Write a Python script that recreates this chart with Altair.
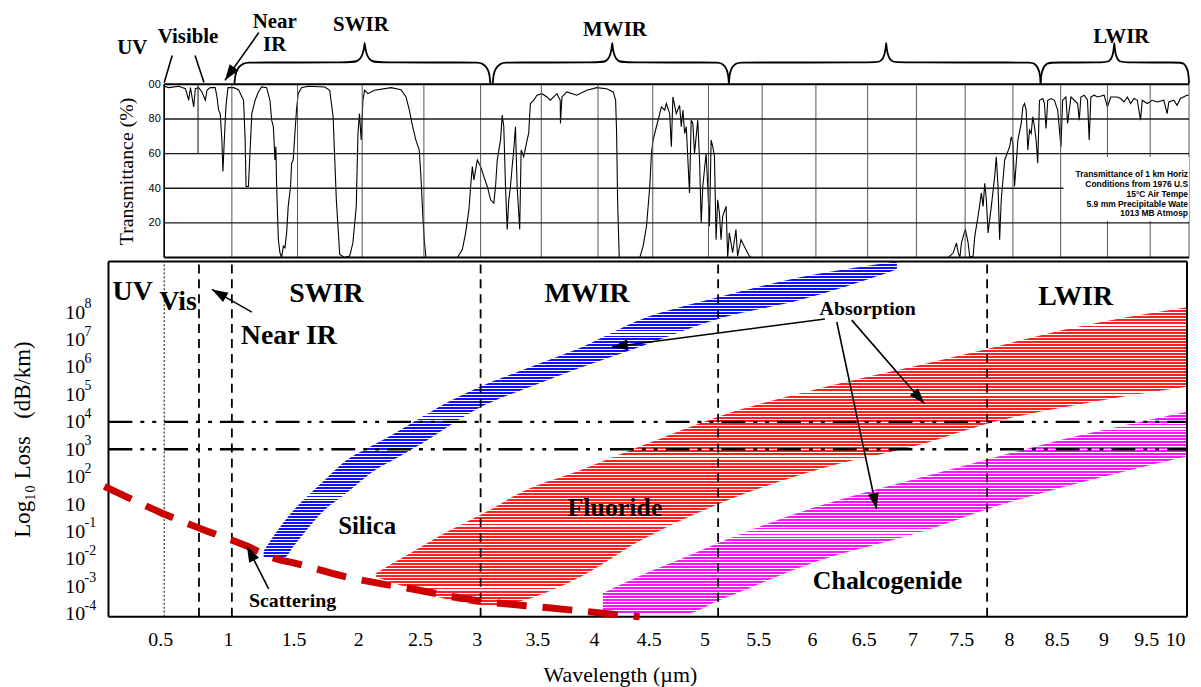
import altair as alt
import pandas as pd

SERIF = "Liberation Serif, Times New Roman, serif"
SANS = "Liberation Sans, Arial, sans-serif"
NARROW = "Liberation Sans Narrow, Arial Narrow, Liberation Sans, sans-serif"

# ---------------- wavelength grid of the transmittance chart (µm) ----------------
grid_wl = [0.5, 1.0, 1.5, 2.0, 2.5, 3.0, 3.5, 4.0, 4.5, 5.0,
           5.5, 6.0, 6.5, 7.0, 7.5, 8.0, 8.5, 9.0, 9.5, 10.0]
grid_T = [0, 20, 40, 60, 80, 100]

# ---------------- atmospheric transmittance curve ----------------
trans_wl = [0.498, 0.535, 0.608, 0.657, 0.681, 0.694, 0.718, 0.730, 0.755, 0.779, 0.804, 0.816, 0.840,
            0.877, 0.890, 0.902, 0.914, 0.926, 0.934, 0.943, 0.956, 0.971, 1.013, 1.051, 1.089, 1.101,
            1.108, 1.126, 1.139, 1.152, 1.177, 1.202, 1.227, 1.265, 1.290, 1.303, 1.316, 1.328, 1.335,
            1.341, 1.354, 1.366, 1.379, 1.392, 1.404, 1.417, 1.429, 1.447, 1.455, 1.467, 1.480, 1.492,
            1.505, 1.531, 1.582, 1.710, 1.749, 1.775, 1.800, 1.826, 1.864, 1.903, 1.928, 1.954, 1.967,
            1.979, 1.992, 2.006, 2.019, 2.046, 2.099, 2.234, 2.315, 2.355, 2.382, 2.409, 2.435, 2.462,
            2.476, 2.490, 2.503, 2.518, 2.796, 2.839, 2.868, 2.897, 2.912, 2.927, 2.941, 2.971, 3.000,
            3.027, 3.055, 3.082, 3.109, 3.123, 3.137, 3.164, 3.178, 3.191, 3.205, 3.219, 3.232, 3.246,
            3.260, 3.273, 3.287, 3.301, 3.322, 3.334, 3.355, 3.383, 3.396, 3.410, 3.437, 3.465, 3.506,
            3.550, 3.579, 3.638, 3.667, 3.669, 3.682, 3.725, 3.813, 3.901, 3.989, 4.079, 4.139, 4.161,
            4.170, 4.179, 4.194, 4.382, 4.412, 4.443, 4.473, 4.488, 4.503, 4.533, 4.578, 4.607, 4.622,
            4.652, 4.667, 4.681, 4.711, 4.741, 4.756, 4.771, 4.786, 4.801, 4.830, 4.845, 4.860, 4.875,
            4.904, 4.920, 4.935, 4.949, 4.979, 4.994, 5.009, 5.025, 5.040, 5.056, 5.071, 5.086, 5.102,
            5.117, 5.132, 5.164, 5.179, 5.194, 5.225, 5.256, 5.271, 5.303, 5.333, 5.380, 5.395, 7.191,
            7.327, 7.378, 7.411, 7.429, 7.446, 7.462, 7.490, 7.503, 7.531, 7.549, 7.583, 7.601, 7.635,
            7.670, 7.688, 7.705, 7.722, 7.740, 7.774, 7.809, 7.826, 7.844, 7.861, 7.878, 7.914, 7.966,
            7.983, 8.000, 8.017, 8.052, 8.087, 8.104, 8.122, 8.139, 8.156, 8.174, 8.191, 8.208, 8.226,
            8.243, 8.260, 8.278, 8.313, 8.330, 8.347, 8.365, 8.399, 8.434, 8.469, 8.503, 8.521, 8.556,
            8.574, 8.610, 8.645, 8.681, 8.699, 8.716, 8.752, 8.787, 8.805, 8.823, 8.858, 8.894, 8.965,
            9.000, 9.038, 9.116, 9.155, 9.194, 9.233, 9.271, 9.310, 9.349, 9.387, 9.407, 9.465, 9.526,
            9.590, 9.675, 9.718, 9.740, 9.804, 9.846, 9.889, 9.974, 10.000]
trans_pct = [98.9, 98.1, 98.9, 97.5, 90.8, 98.1, 87.0, 97.5, 98.1, 95.6, 90.8, 96.6, 98.1,
             98.1, 92.7, 85.1, 83.1, 67.8, 49.6, 65.9, 87.0, 98.1, 98.1, 96.9, 90.8, 67.8,
             41.0, 41.0, 62.1, 83.1, 90.8, 95.6, 98.5, 98.1, 90.8, 79.3, 75.5, 56.3, 64.0,
             41.0, 10.3, 2.7, 0.0, 6.5, 5.6, 14.2, 29.5, 41.0, 54.4, 56.3, 71.6, 85.1,
             94.6, 98.1, 98.9, 98.5, 96.6, 81.2, 33.3, 1.7, 0.0, 0.8, 8.4, 29.5, 71.6,
             83.1, 67.8, 90.8, 96.6, 94.6, 96.6, 98.1, 96.9, 92.7, 85.1, 75.5, 67.8, 62.1,
             46.7, 25.7, 10.3, 0.0, 0.0, 4.6, 14.2, 27.6, 41.0, 52.5, 44.8, 56.3, 52.5,
             46.7, 41.0, 33.3, 31.4, 41.0, 56.3, 67.8, 82.2, 75.5, 41.0, 16.1, 33.3, 41.0,
             52.5, 62.1, 75.5, 41.0, 16.1, 62.1, 58.2, 67.8, 71.6, 88.9, 90.8, 93.7, 94.6,
             92.7, 90.8, 94.6, 90.8, 77.4, 92.7, 95.6, 93.7, 96.6, 98.1, 97.5, 95.6, 90.8,
             71.6, 33.3, 0.0, 0.0, 6.5, 18.0, 41.0, 60.2, 67.8, 75.5, 87.0, 85.1, 88.9,
             83.1, 64.0, 92.7, 83.1, 87.9, 75.5, 85.1, 71.6, 75.5, 37.2, 79.3, 77.4, 60.2,
             79.3, 56.3, 19.9, 41.0, 60.2, 41.0, 18.0, 67.8, 64.0, 58.2, 10.3, 33.3, 25.7,
             10.3, 23.8, 29.5, 0.0, 14.2, 2.7, 16.1, 0.8, 10.3, 6.5, 0.8, 0.0, 0.0,
             0.0, 2.7, 8.4, 2.7, 0.0, 8.4, 14.2, 16.1, 8.4, 0.0, 0.8, 12.3, 23.8,
             37.2, 29.5, 42.9, 33.3, 14.2, 29.5, 46.7, 58.2, 41.0, 10.3, 33.3, 56.3, 64.0,
             69.7, 65.9, 41.0, 67.8, 77.4, 87.0, 88.9, 85.1, 62.1, 73.6, 71.6, 81.2, 75.5,
             67.8, 54.4, 90.8, 91.8, 88.9, 74.5, 90.8, 91.8, 90.8, 85.1, 64.0, 90.8, 92.7,
             77.4, 92.7, 90.8, 88.9, 79.3, 92.7, 93.7, 90.8, 67.8, 92.7, 93.7, 92.7, 93.7,
             87.0, 92.7, 92.7, 91.8, 89.8, 92.7, 88.9, 91.8, 90.8, 79.3, 90.8, 88.9, 90.8,
             89.8, 90.8, 83.1, 89.8, 90.8, 87.9, 91.8, 93.7, 93.7]

# ---------------- spectral band braces above the transmittance chart ----------------
brace_start = [1.02, 3.10, 5.19, 8.29]
brace_tip = [2.02, 4.13, 6.69, 9.08]
brace_end = [3.08, 5.19, 8.29, 10.0]

top_label_text = ["UV", "Visible", "Near", "IR", "SWIR", "MWIR", "LWIR"]
top_label_wl = [0.265, 0.676, 1.326, 1.326, 1.99, 4.155, 9.163]
top_label_T = [117.8, 123.6, 132.8, 119.5, 131.0, 128.2, 123.6]

vis_line_wl_top = [0.559, 0.728]
vis_line_wl_bot = [0.50, 0.794]
vis_line_T_top = [116.7, 116.7]
vis_line_T_bot = [101.0, 101.0]

nir_arrow_from = (1.205, 129.9)
nir_arrow_to = (0.949, 102.3)

info_lines = ["Transmittance of 1 km Horiz", "Conditions from 1976 U.S", "15\u00b0C Air Tempe",
              "5.9 mm Precipitable Wate", "1013 MB Atmosp"]
info_T = [48.3, 42.5, 36.8, 31.0, 25.9]
info_box_wl = (8.53, 10.0)
info_box_T = (21.0, 58.0)

# ---------------- fibre loss bands (log10 dB/km, as read against the printed labels) ----------------
silica_wl = [1.242, 1.394, 1.477, 1.715, 1.846, 2.113, 2.258, 2.535, 2.684, 2.956, 3.41, 3.86, 4.38, 5.09, 5.85, 6.80]
silica_lo = [-1.93, -1.96, -1.49, 0.63, 1.285, 2.265, 2.63, 3.35, 3.75, 4.44, 5.28, 6.00, 6.73, 7.75, 8.44, 9.56]
silica_hi = [-1.71, -0.32, 0.63, 1.90, 2.48, 3.21, 3.57, 4.30, 4.66, 5.21, 6.00, 6.73, 7.71, 8.54, 9.27, 9.85]

fluoride_wl = [2.113, 2.395, 2.684, 3.131, 3.27, 3.86, 4.38, 5.09, 6.02, 7.08, 7.73, 8.56, 9.97]
fluoride_lo = [-2.66, -3.09, -3.45, -3.71, -3.60, -2.62, -1.35, 0.99, 2.265, 3.21, 3.93, 4.55, 5.28]
fluoride_hi = [-2.51, -1.78, -1.06, 0.84, 1.285, 2.265, 3.10, 4.19, 5.21, 6.11, 6.66, 7.38, 8.18]

chalco_wl = [4.045, 4.38, 4.795, 5.09, 6.02, 7.08, 7.73, 8.56, 9.97]
chalco_lo = [-3.96, -4.0, -4.0, -3.53, -2.08, -0.97, 0.63, 1.65, 2.74]
chalco_hi = [-3.24, -2.62, -1.93, -1.42, 0.84, 2.01, 2.63, 3.39, 4.37]

scatter_wl = [0.06, 0.485, 0.779, 1.114, 1.318, 1.5, 1.846, 2.395, 2.99, 3.56, 4.38]
scatter_db = [1.65, 0.336, -0.83, -1.53, -1.97, -2.18, -2.62, -3.09, -3.53, -3.78, -4.11]

loss_ticks = [-4, -3, -2, -1, 1, 2, 3, 4, 5, 6, 7, 8]
loss_exponent = ["-4", "-3", "-2", "-1", "", "2", "3", "4", "5", "6", "7", "8"]

dashed_wl = [0.757, 1.0, 3.0, 5.09, 7.73]
dotted_wl = [0.5]
dashdot_db = [4, 3]

region_text = ["UV", "Vis", "Near IR", "SWIR", "MWIR", "LWIR"]
region_wl = [0.12, 0.463, 1.068, 1.723, 3.904, 8.66]
region_db = [8.44, 8.07, 6.84, 8.36, 8.36, 8.25]
region_align = ["left", "left", "left", "center", "center", "center"]

material_text = ["Silica", "Fluoride", "Chalcogenide"]
material_wl = [2.04, 4.155, 6.704]
material_db = [-1.09, 0.118, -3.09]

note_text = ["Absorption", "Scattering"]
note_wl = [6.5, 1.462]
note_db = [7.89, -3.74]

arrow_from_wl = [1.152, 6.087, 6.346, 6.202, 1.28]
arrow_from_db = [8.0, 7.75, 7.71, 7.64, -3.09]
arrow_to_wl = [0.853, 4.127, 7.082, 6.592, 1.114]
arrow_to_db = [8.83, 6.73, 4.66, 0.626, -1.53]
arrow_head_angle = [300, 262.5, 139, 168, 333]

# ---------------- scales & axes ----------------
W, H_TOP, H_BOT = 1084, 174, 357
X_DOMAIN = [0.09] + grid_wl
X_RANGE = [0, 56, 124, 190, 255, 317, 374, 435, 492, 547, 603, 657, 711, 763,
           812, 861, 909, 957, 1004, 1047, 1086]
X_LEFT, X_RIGHT = 0.09, 9.974
L_BOT, L_TOP = -4.105, 9.85


def xs():
    return alt.Scale(domain=X_DOMAIN, range=X_RANGE, nice=False, zero=False)


def ts():
    return alt.Scale(domain=[0, 100], nice=False, zero=False)


def ls():
    return alt.Scale(domain=[L_BOT, -1, 1, L_TOP], range=[357, 271.4, 243.9, 0], nice=False, zero=False)


def ax_top_y():
    return alt.Axis(values=grid_T[1:], labelExpr="datum.value == 100 ? '00' : datum.label",
                    title="Transmittance (%)", titleFont=SERIF, titleFontSize=20,
                    titleFontWeight="normal", titleColor="black", labelFont=SANS,
                    labelFontSize=11, labelColor="black", domain=False, ticks=False,
                    grid=False, offset=-56, labelPadding=4, titlePadding=12)


def ax_bot_x():
    return alt.Axis(values=grid_wl, format=".1~f", title="Wavelength (\u00b5m)",
                    labelFont=SERIF, labelFontSize=20, labelColor="black", titleFont=SERIF,
                    titleFontSize=22, titleFontWeight="normal", titleColor="black",
                    domain=False, ticks=False, grid=False, labelPadding=13, labelOffset=-4,
                    titlePadding=15, titleX=514, titleAlign="center", labelOverlap=False,
                    labelFlush=True)


def ax_bot_y():
    return alt.Axis(values=loss_ticks, labelExpr="'10'",
                    title="Log\u2081\u2080 Loss \u00a0\u00a0(dB/km)", labelFont=SERIF, labelFontSize=20,
                    labelColor="black", labelAlign="left", labelPadding=44, labelOverlap=False,
                    domain=False, ticks=False, grid=False, titleFont=SERIF,
                    titleFontSize=23, titleFontWeight="normal", titleColor="black",
                    titlePadding=30)


ARROW = "M0,0L0.55,1.6L-0.55,1.6Z"


def xt(field="x"):
    return alt.X(f"{field}:Q", scale=xs(), axis=None)


def yt(field="y"):
    return alt.Y(f"{field}:Q", scale=ts(), axis=ax_top_y())


def xb(field="x"):
    return alt.X(f"{field}:Q", scale=xs(), axis=ax_bot_x())


def yb(field="y"):
    return alt.Y(f"{field}:Q", scale=ls(), axis=ax_bot_y())


# ================= top panel: transmittance =================
curve_df = pd.DataFrame({"x": trans_wl, "y": trans_pct})
curve = alt.Chart(curve_df).mark_line(color="black", strokeWidth=1.1).encode(x=xt(), y=yt())

hgrid_df = pd.DataFrame({"y": [20, 40, 60, 80], "x": [grid_wl[0]] * 4, "x2": [grid_wl[-1]] * 4})
hgrid = alt.Chart(hgrid_df).mark_rule(color="#1a1a1a", strokeWidth=1.4).encode(
    x=xt(), x2="x2:Q", y=yt())
hborder_df = pd.DataFrame({"y": [0, 100], "x": [grid_wl[0]] * 2, "x2": [grid_wl[-1]] * 2})
hborder = alt.Chart(hborder_df).mark_rule(color="black", strokeWidth=2).encode(
    x=xt(), x2="x2:Q", y=yt())

vgrid_df = pd.DataFrame({"x": grid_wl, "y": [0] * len(grid_wl), "y2": [100] * len(grid_wl)})
vgrid = alt.Chart(vgrid_df).mark_rule(color="#555555", strokeWidth=1).encode(
    x=xt(), y=yt(), y2="y2:Q")
vpart = alt.Chart(pd.DataFrame({"x": [0.75], "y": [60], "y2": [100]})).mark_rule(
    color="#333333", strokeWidth=1.2).encode(x=xt(), y=yt(), y2="y2:Q")
vleft = alt.Chart(pd.DataFrame({"x": [grid_wl[0]], "y": [0], "y2": [100]})).mark_rule(
    color="black", strokeWidth=1.6).encode(x=xt(), y=yt(), y2="y2:Q")

box_df = pd.DataFrame({"x": [info_box_wl[0]], "x2": [info_box_wl[1]],
                       "y": [info_box_T[0]], "y2": [info_box_T[1]]})
info_box = alt.Chart(box_df).mark_rect(color="white").encode(
    x=xt(), x2="x2:Q", y=yt(), y2="y2:Q")
info_df = pd.DataFrame({"x": [info_box_wl[1]] * len(info_lines), "y": info_T, "t": info_lines})
info_text = alt.Chart(info_df).mark_text(align="right", baseline="middle", font=NARROW,
                                         fontSize=8.5, fontWeight="bold", dx=-1,
                                         color="black").encode(x=xt(), y=yt(), text="t:N")

brace_rows = []
for b, (x0, xm, x1) in enumerate(zip(brace_start, brace_tip, brace_end)):
    w = 0.13
    pts = [(x0, 100.3), (x0 + 0.05 * w, 108.0), (x0 + 0.5 * w, 112.6), (x0 + w, 112.6),
           (xm - w, 112.6), (xm - 0.4 * w, 112.8), (xm - 0.08 * w, 117.5), (xm, 124.0), (xm, 124.0),
           (xm + 0.08 * w, 117.5), (xm + 0.4 * w, 112.8), (xm + w, 112.6),
           (x1 - w, 112.6), (x1 - 0.5 * w, 112.6), (x1 - 0.05 * w, 108.0), (x1, 100.3)]
    for k, (px, py) in enumerate(pts):
        brace_rows.append({"b": b, "k": k, "x": px, "y": py})
braces = alt.Chart(pd.DataFrame(brace_rows)).mark_line(
    color="black", strokeWidth=1.8, interpolate="basis").encode(
    x=xt(), y=yt(), detail="b:N", order="k:Q")

vis_df = pd.DataFrame({"x": vis_line_wl_top, "y": vis_line_T_top,
                       "x2": vis_line_wl_bot, "y2": vis_line_T_bot})
vis_lines = alt.Chart(vis_df).mark_rule(color="black", strokeWidth=1.6).encode(
    x=xt(), y=yt(), x2="x2:Q", y2="y2:Q")

nir_df = pd.DataFrame({"x": [nir_arrow_from[0]], "y": [nir_arrow_from[1]],
                       "x2": [nir_arrow_to[0]], "y2": [nir_arrow_to[1]]})
nir_line = alt.Chart(nir_df).mark_rule(color="black", strokeWidth=1.6).encode(
    x=xt(), y=yt(), x2="x2:Q", y2="y2:Q")
nir_head = alt.Chart(pd.DataFrame({"x": [nir_arrow_to[0]], "y": [nir_arrow_to[1]]})).mark_point(
    shape=ARROW, filled=True, size=400, color="black", opacity=1, angle=215).encode(x=xt(), y=yt())

top_text_layers = []
for i, t in enumerate(top_label_text):
    d = pd.DataFrame({"x": [top_label_wl[i]], "y": [top_label_T[i]], "t": [t]})
    top_text_layers.append(
        alt.Chart(d).mark_text(align="center", baseline="alphabetic", font=SERIF, fontSize=21,
                               fontWeight="bold", color="black").encode(x=xt(), y=yt(), text="t:N"))

top = alt.layer(curve, vgrid, vpart, hgrid, info_box, info_text, vleft, hborder, braces, vis_lines,
                nir_line, nir_head, *top_text_layers).properties(width=W, height=H_TOP)


# ================= bottom panel: fibre loss =================
def stripes(color, n, frac=0.64):
    stops = []
    for i in range(n):
        a, b, c = i / n, (i + frac) / n, (i + 1) / n
        stops += [alt.GradientStop(color=color, offset=round(a, 5)),
                  alt.GradientStop(color=color, offset=round(b, 5)),
                  alt.GradientStop(color="white", offset=round(b, 5)),
                  alt.GradientStop(color="white", offset=round(c, 5))]
    return alt.LinearGradient(gradient="linear", stops=stops, x1=0, x2=0, y1=0, y2=1)


def band(wl, lo, hi, color, n):
    d = pd.DataFrame({"x": wl, "y": lo, "y2": hi})
    return alt.Chart(d).mark_area(color=stripes(color, n), interpolate="monotone").encode(
        x=xb(), y=yb(), y2="y2:Q")


silica = band(silica_wl, silica_lo, silica_hi, "#1010ff", 100)
fluoride = band(fluoride_wl, fluoride_lo, fluoride_hi, "#ff2020", 98)
chalco = band(chalco_wl, chalco_lo, chalco_hi, "#ff14ff", 68)

n_d = len(dashed_wl)
dashed = alt.Chart(pd.DataFrame({"x": dashed_wl, "y": [L_BOT] * n_d, "y2": [L_TOP] * n_d})).mark_rule(
    color="black", strokeWidth=1.8, strokeDash=[9, 6]).encode(x=xb(), y=yb(), y2="y2:Q")
dotted = alt.Chart(pd.DataFrame({"x": dotted_wl, "y": [L_BOT], "y2": [L_TOP]})).mark_rule(
    color="black", strokeWidth=1, strokeDash=[2, 2]).encode(x=xb(), y=yb(), y2="y2:Q")
dashdot = alt.Chart(pd.DataFrame({"y": dashdot_db, "x": [X_LEFT] * 2, "x2": [X_RIGHT] * 2})).mark_rule(
    color="black", strokeWidth=2.4, strokeDash=[24, 8, 4, 8, 4, 8]).encode(y=yb(), x=xb(), x2="x2:Q")

frame_h = alt.Chart(pd.DataFrame({"y": [L_BOT, L_TOP], "x": [X_LEFT] * 2, "x2": [X_RIGHT] * 2})).mark_rule(
    color="black", strokeWidth=2).encode(y=yb(), x=xb(), x2="x2:Q")
frame_v = alt.Chart(pd.DataFrame({"x": [X_LEFT, X_RIGHT], "y": [L_BOT] * 2, "y2": [L_TOP] * 2})).mark_rule(
    color="black", strokeWidth=2).encode(x=xb(), y=yb(), y2="y2:Q")

scatter = alt.Chart(pd.DataFrame({"x": scatter_wl, "y": scatter_db})).mark_line(
    color="#cc0000", strokeWidth=7, strokeDash=[30, 16], interpolate="monotone").encode(
    x=xb(), y=yb())

arrow_df = pd.DataFrame({"x": arrow_from_wl, "y": arrow_from_db, "x2": arrow_to_wl,
                         "y2": arrow_to_db, "a": arrow_head_angle})
arrow_lines = alt.Chart(arrow_df).mark_rule(color="black", strokeWidth=1.6).encode(
    x=xb(), y=yb(), x2="x2:Q", y2="y2:Q")
arrow_heads = alt.Chart(arrow_df).mark_point(
    shape=ARROW, filled=True, size=400, color="black", opacity=1).encode(
    x=xb("x2"), y=yb("y2"), angle=alt.Angle("a:Q", scale=None))

# exponents of the "10^n" tick labels, set as raised small text beside each label
exp_df = pd.DataFrame({"x": [X_LEFT] * len(loss_ticks), "y": loss_ticks, "t": loss_exponent})
exponents = alt.Chart(exp_df).mark_text(align="left", baseline="middle", font=SERIF, fontSize=14,
                                        dx=-24, dy=-8, color="black").encode(
    x=xb(), y=yb(), text="t:N")

bot_text_layers = []
for i, t in enumerate(region_text):
    d = pd.DataFrame({"x": [region_wl[i]], "y": [region_db[i]], "t": [t]})
    bot_text_layers.append(
        alt.Chart(d).mark_text(align=region_align[i], baseline="alphabetic", font=SERIF, fontSize=28,
                               fontWeight="bold", color="black").encode(x=xb(), y=yb(), text="t:N"))
for i, t in enumerate(material_text):
    d = pd.DataFrame({"x": [material_wl[i]], "y": [material_db[i]], "t": [t]})
    bot_text_layers.append(
        alt.Chart(d).mark_text(align="center", baseline="alphabetic", font=SERIF,
                               fontSize=25 if t == "Silica" else 26,
                               fontWeight="bold", color="black").encode(x=xb(), y=yb(), text="t:N"))
for i, t in enumerate(note_text):
    d = pd.DataFrame({"x": [note_wl[i]], "y": [note_db[i]], "t": [t]})
    bot_text_layers.append(
        alt.Chart(d).mark_text(align="center", baseline="alphabetic", font=SERIF, fontSize=20,
                               fontWeight="bold", color="black").encode(x=xb(), y=yb(), text="t:N"))

bottom = alt.layer(silica, fluoride, chalco, dotted, dashed, dashdot, frame_h, frame_v,
                   scatter, arrow_lines, arrow_heads, exponents, *bot_text_layers).properties(
    width=W, height=H_BOT)

chart = alt.vconcat(top, bottom, spacing=0).resolve_scale(x="independent").properties(
    padding={"left": 4, "top": 0, "right": 0, "bottom": 0}
).configure(background="white").configure_view(strokeWidth=0)

chart.save("out.html", embed_options={"renderer": "svg", "actions": False})
